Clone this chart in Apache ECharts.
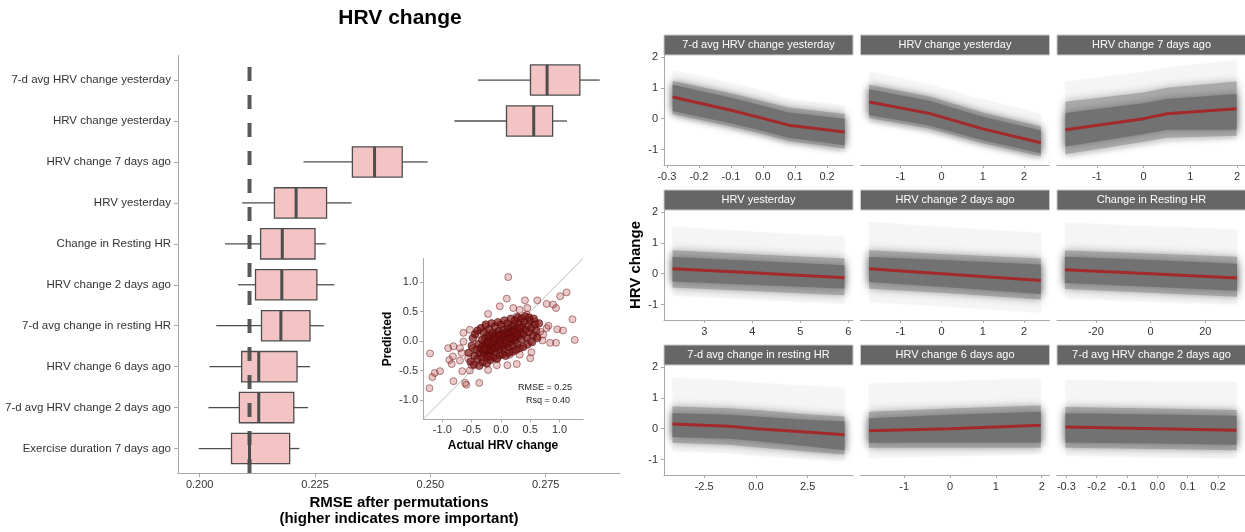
<!DOCTYPE html>
<html>
<head>
<meta charset="utf-8">
<title>HRV change</title>
<script src="https://cdn.jsdelivr.net/npm/echarts@6/dist/echarts.min.js"></script>
<style>
  html, body { margin: 0; padding: 0; background: #fff; }
  #chart { width: 1245px; height: 532px; }
</style>
</head>
<body>
<div id="chart"></div>
<script>
// ---- permutation importance (left panel) ----
const boxLabels = [
  '7-d avg HRV change yesterday', 'HRV change yesterday', 'HRV change 7 days ago',
  'HRV yesterday', 'Change in Resting HR', 'HRV change 2 days ago',
  '7-d avg change in resting HR', 'HRV change 6 days ago',
  '7-d avg HRV change 2 days ago', 'Exercise duration 7 days ago'
]
const whiskerLow = [0.2603, 0.2552, 0.2225, 0.2092, 0.2055, 0.2083, 0.2036, 0.2021, 0.2019, 0.1998]
const boxQ1 = [0.2717, 0.2665, 0.2331, 0.2162, 0.2132, 0.2121, 0.2134, 0.2091, 0.2086, 0.2069]
const boxMedian = [0.2753, 0.2724, 0.2379, 0.2209, 0.2179, 0.2178, 0.2176, 0.2128, 0.2128, 0.2108]
const boxQ3 = [0.2824, 0.2765, 0.2439, 0.2275, 0.2250, 0.2254, 0.2239, 0.2211, 0.2204, 0.2195]
const whiskerHigh = [0.2867, 0.2796, 0.2494, 0.2329, 0.2273, 0.2292, 0.2269, 0.2239, 0.2235, 0.2216]
const baselineRmse = 0.2108
const rmseTicks = [0.200, 0.225, 0.250, 0.275]

// ---- inset: predicted vs actual ----
const outlierPoints = [
  [0.125, 1.085], [0.10, 0.72], [1.12, 0.825], [1.01, 0.76], [0.62, 0.69], [0.41, 0.69], [0.78, 0.63],
  [0.94, 0.56], [0.89, 0.62], [1.22, 0.37], [1.26, 0.02], [0.96, 0.20], [1.06, 0.18], [0.81, 0.26],
  [0.94, -0.03], [0.84, -0.03], [0.71, 0.01], [0.50, 0.00], [0.52, -0.19], [0.27, -0.39], [0.11, -0.41],
  [-0.22, 0.46], [-0.02, 0.59], [-0.06, -0.29], [-0.22, -0.49], [-0.37, -0.71], [-0.59, -0.74],
  [-0.61, -0.71], [-0.81, -0.68], [-1.22, -0.80], [-1.17, -0.61], [-1.13, -0.54], [-1.04, -0.51],
  [-1.21, -0.21], [-0.88, -0.32], [-0.84, -0.39], [-0.66, -0.51], [-0.53, -0.50], [-0.50, -0.41],
  [-0.82, -0.26], [-0.90, -0.12], [-0.81, -0.09], [-0.70, -0.12], [-0.64, -0.01], [-0.53, 0.19],
  [-0.64, 0.14], [-0.67, -0.20], [-0.40, 0.11], [-0.27, 0.25], [-0.48, -0.12], [-0.56, -0.29],
  [-0.70, -0.33], [0.61, 0.08], [0.67, 0.16], [0.58, 0.33], [0.44, 0.45], [0.32, 0.53], [0.27, 0.42],
  [0.21, 0.56], [0.45, 0.56], [0.72, 0.11], [0.78, 0.22], [0.50, -0.29], [0.32, -0.23], [0.15, -0.23],
  [-0.07, -0.41]
]
const corePoints = [
  [-0.45, -0.25], [-0.42, -0.15], [-0.40, -0.30], [-0.38, -0.05], [-0.36, -0.20], [-0.35, -0.12],
  [-0.33, -0.28], [-0.32, 0.02], [-0.30, -0.18], [-0.30, -0.08], [-0.28, -0.22], [-0.27, 0.05],
  [-0.26, -0.13], [-0.25, -0.03], [-0.24, -0.25], [-0.23, 0.10], [-0.22, -0.17], [-0.21, -0.07],
  [-0.20, 0.00], [-0.19, -0.20], [-0.18, 0.07], [-0.17, -0.11], [-0.16, -0.02], [-0.15, 0.14],
  [-0.14, -0.15], [-0.13, 0.03], [-0.12, -0.08], [-0.11, 0.09], [-0.10, -0.18], [-0.09, -0.01],
  [-0.08, 0.12], [-0.07, -0.10], [-0.06, 0.05], [-0.05, -0.05], [-0.04, 0.17], [-0.03, -0.14],
  [-0.02, 0.02], [-0.01, 0.08], [0.00, -0.03], [0.01, 0.13], [0.02, -0.09], [0.03, 0.04],
  [0.04, 0.20], [0.05, -0.12], [0.06, 0.07], [0.07, 0.00], [0.08, 0.15], [0.09, -0.06],
  [0.10, 0.10], [0.11, 0.03], [0.12, 0.22], [0.13, -0.10], [0.14, 0.06], [0.15, 0.16],
  [0.16, -0.02], [0.17, 0.11], [0.18, 0.25], [0.19, 0.04], [0.20, -0.08], [0.21, 0.18],
  [0.22, 0.09], [0.23, 0.28], [0.24, 0.01], [0.25, 0.14], [0.27, 0.21], [0.28, -0.05],
  [0.30, 0.08], [0.31, 0.30], [0.33, 0.16], [0.35, 0.03], [0.36, 0.24], [0.38, 0.12],
  [0.40, 0.33], [0.42, 0.19], [0.44, 0.06], [0.46, 0.27], [0.48, 0.15], [0.50, 0.35],
  [0.52, 0.22], [0.55, 0.10], [0.58, 0.28], [0.60, 0.18],
  [-0.55, -0.20], [-0.52, -0.35], [-0.50, -0.08], [-0.48, 0.05], [-0.46, -0.40], [-0.44, 0.12],
  [-0.40, 0.18], [-0.37, -0.42], [-0.34, 0.22], [-0.31, -0.36], [-0.29, 0.15], [-0.26, 0.28],
  [-0.24, -0.38], [-0.20, 0.20], [-0.18, -0.32], [-0.16, 0.30], [-0.13, -0.28], [-0.10, 0.25],
  [-0.07, -0.30], [-0.05, 0.32], [-0.02, -0.24], [0.00, 0.28], [0.03, -0.22], [0.06, 0.35],
  [0.08, -0.25], [0.11, 0.30], [0.14, -0.20], [0.17, 0.38], [0.20, -0.18], [0.24, 0.35],
  [0.26, -0.15], [0.29, 0.40], [0.32, -0.12], [0.35, 0.38], [0.38, -0.10], [0.41, 0.42],
  [0.45, -0.06], [0.48, 0.40], [0.53, -0.02], [0.56, 0.38], [0.62, 0.05], [0.65, 0.30],
  [-0.25, -0.10], [-0.22, -0.02], [-0.18, -0.14], [-0.15, -0.06], [-0.12, 0.00], [-0.10, -0.12],
  [-0.08, 0.04], [-0.05, -0.08], [-0.03, 0.10], [0.00, 0.02], [0.02, -0.05], [0.05, 0.09],
  [0.08, 0.02], [0.10, -0.02], [0.12, 0.12], [0.15, 0.05], [0.18, 0.14], [0.20, 0.06],
  [0.22, 0.16], [0.25, 0.07], [-0.28, -0.14], [-0.20, -0.26], [0.28, 0.12], [0.32, 0.22]
]
const scatterTicks = [-1, -0.5, 0, 0.5, 1]

// ---- ICE / PDP facets (right panel) ----
// columns: x, faintLo, midLo, coreLo, pdp, coreHi, midHi, faintHi
const iceAvgYesterday = [
  [-0.282, 0.08, 0.15, 0.25, 0.70, 1.10, 1.22, 1.56],
  [-0.10, -0.35, -0.25, -0.15, 0.27, 0.68, 0.82, 1.15],
  [0.00, -0.60, -0.50, -0.40, 0.01, 0.42, 0.56, 0.90],
  [0.08, -0.82, -0.72, -0.62, -0.21, 0.20, 0.36, 0.62],
  [0.255, -1.08, -0.97, -0.86, -0.43, 0.00, 0.15, 0.42]
]
const iceChangeYesterday = [
  [-1.76, -0.12, 0.02, 0.12, 0.54, 0.95, 1.10, 1.52],
  [-0.30, -0.45, -0.32, -0.22, 0.17, 0.58, 0.72, 1.10],
  [1.00, -0.90, -0.80, -0.70, -0.33, 0.06, 0.20, 0.62],
  [2.41, -1.32, -1.22, -1.12, -0.78, -0.38, -0.25, 0.16]
]
const iceChange7d = [
  [-1.67, -1.25, -1.15, -0.90, -0.36, 0.18, 0.55, 1.19],
  [0.00, -0.90, -0.75, -0.50, 0.00, 0.50, 0.85, 1.50],
  [0.50, -0.78, -0.62, -0.36, 0.16, 0.64, 1.00, 1.65],
  [1.99, -0.65, -0.55, -0.36, 0.32, 0.80, 1.20, 1.89]
]
const iceHrvYesterday = [
  [2.34, -0.70, -0.45, -0.25, 0.16, 0.54, 0.76, 1.51],
  [4.00, -0.83, -0.56, -0.36, 0.03, 0.42, 0.63, 1.35],
  [5.92, -0.97, -0.70, -0.48, -0.13, 0.27, 0.49, 1.19]
]
const iceChange2d = [
  [-1.76, -0.92, -0.49, -0.27, 0.16, 0.54, 0.76, 1.67],
  [0.00, -1.05, -0.62, -0.42, 0.00, 0.44, 0.64, 1.50],
  [2.41, -1.26, -0.84, -0.66, -0.22, 0.30, 0.49, 1.31]
]
const iceRestingHr = [
  [-31.3, -0.80, -0.50, -0.30, 0.13, 0.55, 0.75, 1.64],
  [0.0, -0.90, -0.62, -0.42, 0.00, 0.44, 0.65, 1.53],
  [31.6, -0.99, -0.75, -0.55, -0.14, 0.32, 0.55, 1.42]
]
const iceAvgRestingHr = [
  [-4.03, -0.73, -0.46, -0.27, 0.15, 0.50, 0.72, 1.64],
  [-1.30, -0.78, -0.52, -0.33, 0.08, 0.45, 0.66, 1.55],
  [0.00, -0.86, -0.60, -0.40, 0.00, 0.39, 0.60, 1.48],
  [2.60, -0.98, -0.75, -0.58, -0.12, 0.28, 0.46, 1.38],
  [4.28, -1.05, -0.84, -0.70, -0.20, 0.23, 0.39, 1.32]
]
const iceChange6d = [
  [-1.77, -0.95, -0.62, -0.46, -0.07, 0.34, 0.55, 1.45],
  [0.00, -0.88, -0.62, -0.45, 0.00, 0.45, 0.65, 1.53],
  [1.98, -0.81, -0.62, -0.45, 0.11, 0.55, 0.75, 1.62]
]
const iceAvg2d = [
  [-0.303, -0.86, -0.62, -0.45, 0.05, 0.50, 0.70, 1.56],
  [0.00, -0.92, -0.66, -0.48, 0.00, 0.46, 0.65, 1.53],
  [0.261, -0.97, -0.70, -0.52, -0.05, 0.42, 0.60, 1.51]
]
const facetTitles = [
  '7-d avg HRV change yesterday', 'HRV change yesterday', 'HRV change 7 days ago',
  'HRV yesterday', 'HRV change 2 days ago', 'Change in Resting HR',
  '7-d avg change in resting HR', 'HRV change 6 days ago', '7-d avg HRV change 2 days ago'
]
const facetTables = [
  iceAvgYesterday, iceChangeYesterday, iceChange7d,
  iceHrvYesterday, iceChange2d, iceRestingHr,
  iceAvgRestingHr, iceChange6d, iceAvg2d
]
const facetTicks = [
  [-0.3, -0.2, -0.1, 0, 0.1, 0.2], [-1, 0, 1, 2], [-1, 0, 1, 2],
  [3, 4, 5, 6], [-1, 0, 1, 2], [-20, 0, 20],
  [-2.5, 0, 2.5], [-1, 0, 1, 2], [-0.3, -0.2, -0.1, 0, 0.1, 0.2]
]
const facetDecimals = [1, 0, 0, 0, 0, 0, 1, 0, 1]
const iceYTicks = [-1, 0, 1, 2]

// ---- layout ----
const FONT = '"Liberation Sans", Arial, Helvetica, sans-serif'
const axisGray = '#a8a8a8'
const tickText = '#333333'
const facetXLimits = [
  [-0.309, 0.281], [-1.97, 2.62], [-1.851, 2.17],
  [2.16, 6.10], [-1.97, 2.62], [-34.2, 34.5],
  [-4.44, 4.69], [-1.954, 2.17], [-0.331, 0.289]
]
const colLeft = [664, 860.5, 1057]
const rowTop = [55, 210, 365]
const panelW = 189
const panelH = 110
const stripH = 20

const grid = []
const xAxis = []
const yAxis = []
const series = []
const graphic = []

// grid 0: importance boxplots
grid.push({ left: 178, top: 55.5, width: 442, height: 421 })
xAxis.push({
  gridIndex: 0, type: 'value', min: 0.1953, max: 0.2911,
  splitLine: { show: false },
  axisLine: { onZero: false, lineStyle: { color: axisGray, width: 1 } },
  axisTick: { length: 4, customValues: rmseTicks, lineStyle: { color: axisGray } },
  axisLabel: { customValues: rmseTicks, formatter: v => v.toFixed(3), margin: 6, fontSize: 11, color: tickText, fontFamily: FONT },
  name: 'RMSE after permutations\n(higher indicates more important)',
  nameLocation: 'middle', nameGap: 20,
  nameTextStyle: { fontSize: 15, fontWeight: 'bold', lineHeight: 16, color: '#000', fontFamily: FONT }
})
yAxis.push({
  gridIndex: 0, type: 'value', inverse: true, min: -0.6, max: 9.6,
  splitLine: { show: false },
  axisLine: { show: true, onZero: false, lineStyle: { color: axisGray, width: 1 } },
  axisTick: { show: true, length: 4, customValues: boxLabels.map((_, i) => i), lineStyle: { color: axisGray } },
  axisLabel: { customValues: boxLabels.map((_, i) => i), formatter: v => boxLabels[Math.round(v)], margin: 7, fontSize: 11.5, color: tickText, fontFamily: FONT }
})
series.push({
  type: 'custom', xAxisIndex: 0, yAxisIndex: 0, silent: true,
  encode: { x: [1, 2, 3, 4, 5], y: 0 },
  data: boxLabels.map((_, i) => [i, whiskerLow[i], boxQ1[i], boxMedian[i], boxQ3[i], whiskerHigh[i]]),
  renderItem: (params, api) => {
    const idx = api.value(0)
    const pLo = api.coord([api.value(1), idx])
    const pQ1 = api.coord([api.value(2), idx])
    const pMd = api.coord([api.value(3), idx])
    const pQ3 = api.coord([api.value(4), idx])
    const pHi = api.coord([api.value(5), idx])
    const h = api.size([0, 1])[1] * 0.74
    const y = pMd[1]
    const stroke = '#4d4d4d'
    return {
      type: 'group',
      children: [
        { type: 'line', shape: { x1: pLo[0], y1: y, x2: pQ1[0], y2: y }, style: { stroke, lineWidth: 1.3 } },
        { type: 'line', shape: { x1: pQ3[0], y1: y, x2: pHi[0], y2: y }, style: { stroke, lineWidth: 1.3 } },
        { type: 'rect', shape: { x: pQ1[0], y: y - h / 2, width: pQ3[0] - pQ1[0], height: h }, style: { fill: '#f4c4c4', stroke, lineWidth: 1.3 } },
        { type: 'line', shape: { x1: pMd[0], y1: y - h / 2, x2: pMd[0], y2: y + h / 2 }, style: { stroke, lineWidth: 3 } }
      ]
    }
  }
})
series.push({
  type: 'line', xAxisIndex: 0, yAxisIndex: 0, silent: true, symbol: 'none', z: 5,
  data: [[baselineRmse, 9.6], [baselineRmse, -0.6]],
  lineStyle: { color: '#4a4a4a', width: 4, type: [14, 14], cap: 'butt', opacity: 0.92 }
})

// grid 1: inset scatter
grid.push({ left: 423, top: 258.5, width: 160, height: 161 })
const insetAxis = (name, isX) => ({
  gridIndex: 1, type: 'value', min: -1.33, max: 1.40,
  splitLine: { show: false },
  axisLine: { onZero: false, lineStyle: { color: axisGray, width: 1 } },
  axisTick: { length: 3, customValues: scatterTicks, lineStyle: { color: axisGray } },
  axisLabel: { customValues: scatterTicks, formatter: v => v.toFixed(1), margin: 5, fontSize: 11, color: tickText, fontFamily: FONT },
  name, nameLocation: 'middle', nameGap: isX ? 20 : 29,
  nameTextStyle: { fontSize: 12, fontWeight: 'bold', color: '#000', fontFamily: FONT }
})
xAxis.push(insetAxis('Actual HRV change', true))
yAxis.push(insetAxis('Predicted', false))
series.push({
  type: 'line', xAxisIndex: 1, yAxisIndex: 1, silent: true, symbol: 'none', z: 1,
  data: [[-1.33, -1.33], [1.40, 1.40]],
  lineStyle: { color: '#bdbdbd', width: 1 }
})
series.push({
  type: 'scatter', xAxisIndex: 1, yAxisIndex: 1, silent: true, symbolSize: 7, z: 3,
  data: outlierPoints,
  itemStyle: { color: 'rgba(165, 50, 50, 0.32)', borderColor: 'rgba(110, 20, 20, 0.8)', borderWidth: 0.8 }
})
series.push({
  type: 'scatter', xAxisIndex: 1, yAxisIndex: 1, silent: true, symbolSize: 7.5, z: 3,
  data: corePoints,
  itemStyle: { color: 'rgba(122, 16, 16, 0.85)', borderColor: 'rgba(80, 8, 8, 0.9)', borderWidth: 0.8 }
})
graphic.push({ type: 'text', x: 545, y: 388, style: { text: 'RMSE = 0.25', font: '9px ' + FONT, fill: '#222', align: 'center', verticalAlign: 'middle' } })
graphic.push({ type: 'text', x: 548, y: 401, style: { text: 'Rsq = 0.40', font: '9px ' + FONT, fill: '#222', align: 'center', verticalAlign: 'middle' } })

// ICE facets
const bandRender = (rows, loCol, hiCol, fill, blur) => (params, api) => {
  if (params.dataIndex !== 0) return null
  const upper = rows.map(r => api.coord([r[0], r[hiCol]]))
  const lower = rows.map(r => api.coord([r[0], r[loCol]])).reverse()
  return {
    type: 'polygon', shape: { points: upper.concat(lower) },
    style: { fill, shadowBlur: blur, shadowColor: fill }
  }
}
facetTables.forEach((rows, f) => {
  const col = f % 3
  const row = Math.floor(f / 3)
  const gi = grid.length
  grid.push({ left: colLeft[col], top: rowTop[row], width: panelW, height: panelH })
  xAxis.push({
    gridIndex: gi, type: 'value', min: facetXLimits[f][0], max: facetXLimits[f][1],
    splitLine: { show: false },
    axisLine: { onZero: false, lineStyle: { color: axisGray, width: 1 } },
    axisTick: { length: 3, customValues: facetTicks[f], lineStyle: { color: axisGray } },
    axisLabel: { customValues: facetTicks[f], formatter: v => v.toFixed(facetDecimals[f]), margin: 6, fontSize: 11, color: tickText, fontFamily: FONT }
  })
  const leftCol = col === 0
  yAxis.push({
    gridIndex: gi, type: 'value', min: -1.5, max: 2.06,
    splitLine: { show: false },
    axisLine: { show: leftCol, onZero: false, lineStyle: { color: axisGray, width: 1 } },
    axisTick: { show: leftCol, length: 3, customValues: iceYTicks, lineStyle: { color: axisGray } },
    axisLabel: { show: leftCol, customValues: iceYTicks, margin: 6, fontSize: 11, color: tickText, fontFamily: FONT },
    name: f === 3 ? 'HRV change' : '', nameLocation: 'middle', nameGap: 21,
    nameTextStyle: { fontSize: 15, fontWeight: 'bold', color: '#000', fontFamily: FONT }
  })
  const bands = [[1, 7, '#f5f5f5', 3], [2, 6, '#aaaaaa', 9], [3, 5, '#727272', 8]]
  bands.forEach(([lo, hi, fill, blur]) => {
    series.push({
      type: 'custom', xAxisIndex: gi, yAxisIndex: gi, silent: true,
      encode: { x: 0, y: [1, 2, 3, 4, 5, 6, 7] },
      data: rows, renderItem: bandRender(rows, lo, hi, fill, blur)
    })
  })
  series.push({
    type: 'line', xAxisIndex: gi, yAxisIndex: gi, silent: true, symbol: 'none', z: 4,
    data: rows.map(r => [r[0], r[4]]),
    lineStyle: { color: '#a3292b', width: 3 }
  })
  graphic.push({
    type: 'rect', shape: { x: colLeft[col], y: rowTop[row] - stripH, width: panelW, height: stripH },
    style: { fill: '#666666', stroke: '#c9c9c9', lineWidth: 1 }
  })
  graphic.push({
    type: 'text', x: colLeft[col] + panelW / 2, y: rowTop[row] - stripH / 2,
    style: { text: facetTitles[f], font: '11px ' + FONT, fill: '#ffffff', align: 'center', verticalAlign: 'middle' }
  })
})

graphic.push({
  type: 'text', x: 400, y: 18,
  style: { text: 'HRV change', font: 'bold 21px ' + FONT, fill: '#000', align: 'center', verticalAlign: 'middle' }
})

const chart = echarts.init(document.getElementById('chart'), null, { renderer: 'canvas' })
chart.setOption({
  animation: false,
  backgroundColor: '#ffffff',
  textStyle: { fontFamily: FONT },
  grid, xAxis, yAxis, series, graphic
})
</script>
</body>
</html>
